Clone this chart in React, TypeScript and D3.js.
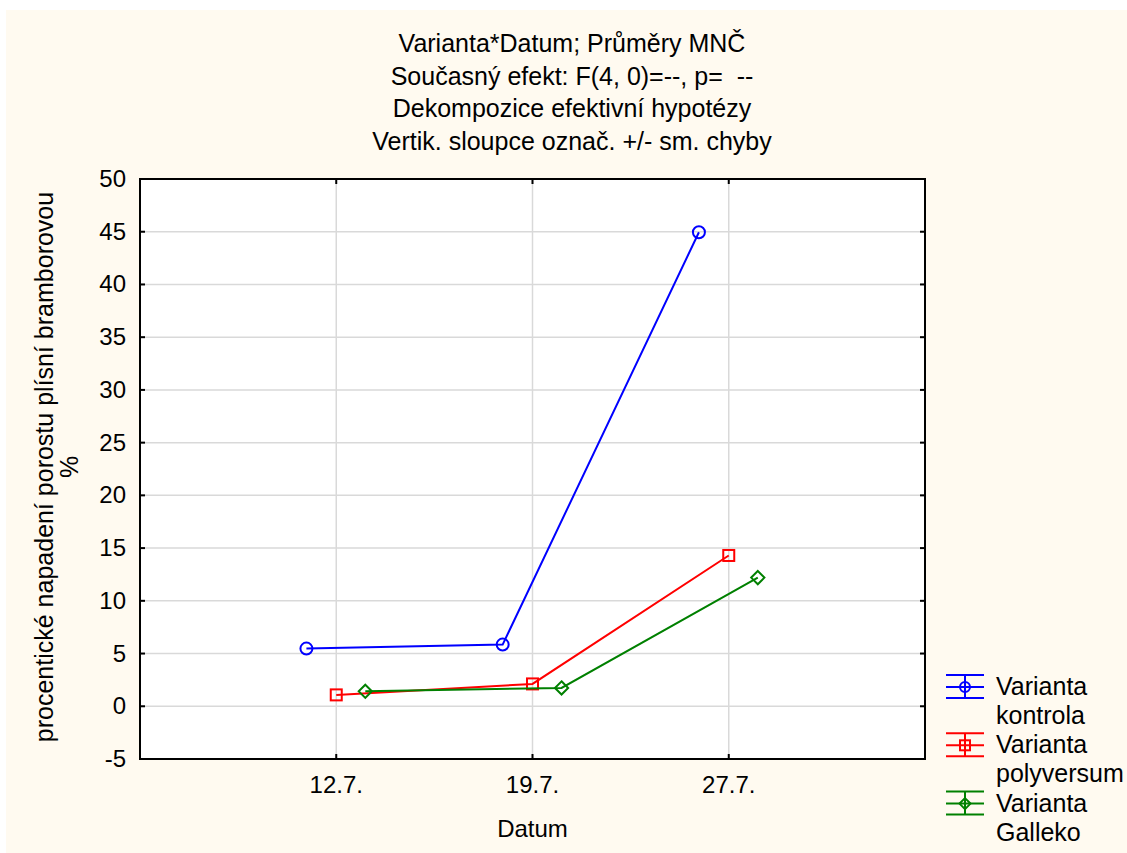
import React from "react";
import * as d3 from "d3";

const categories = ["12.7.", "19.7.", "27.7."];
const kontrola = [5.47, 5.85, 44.95];
const polyversum = [1.08, 2.12, 14.3];
const galleko = [1.42, 1.74, 12.2];
const yTicks = [-5, 0, 5, 10, 15, 20, 25, 30, 35, 40, 45, 50];
const titleLines = [
  "Varianta*Datum; Průměry MNČ",
  "Současný efekt: F(4, 0)=--, p=  --",
  "Dekompozice efektivní hypotézy",
  "Vertik. sloupce označ. +/- sm. chyby",
];
const yLabelLines = ["procentické napadení porostu plísní bramborovou", "%"];
const xLabel = "Datum";

type Series = { name: string[]; values: number[]; color: string; marker: "circle" | "square" | "diamond"; offset: number };
const series: Series[] = [
  { name: ["Varianta", "kontrola"], values: kontrola, color: "#0000ff", marker: "circle", offset: -0.152 },
  { name: ["Varianta", "polyversum"], values: polyversum, color: "#ff0000", marker: "square", offset: 0 },
  { name: ["Varianta", "Galleko"], values: galleko, color: "#008000", marker: "diamond", offset: 0.148 },
];

const W = 1127, H = 853;
const left = 140, right = 925, top = 179, bottom = 759;
const FONT = "'Liberation Sans', Arial, sans-serif";

function Marker({ type, x, y, color, s }: { type: string; x: number; y: number; color: string; s: number }) {
  if (type === "circle") return <circle cx={x} cy={y} r={s} fill="none" stroke={color} strokeWidth={2} />;
  if (type === "square") return <rect x={x - s} y={y - s} width={2 * s} height={2 * s} fill="none" stroke={color} strokeWidth={2} />;
  const d = s * 1.1;
  return <path d={`M${x},${y - d}L${x + d},${y}L${x},${y + d}L${x - d},${y}Z`} fill="none" stroke={color} strokeWidth={2} />;
}

export default function App() {
  const x = d3.scaleLinear().domain([0, 4]).range([left, right]);
  const y = d3.scaleLinear().domain([-5, 50]).range([bottom, top]);
  const line = d3.line<[number, number]>().x((d) => d[0]).y((d) => d[1]);

  return (
    <svg width={W} height={H} style={{ position: "absolute", left: 0, top: 0, fontFamily: FONT }}>
      <rect x={0} y={0} width={W} height={H} fill="#ffffff" />
      <rect x={6} y={10} width={W - 6} height={H - 10} fill="#fffaf0" />
      {titleLines.map((t, i) => (
        <text key={i} x={572} y={52 + i * 32.7} textAnchor="middle" fontSize={25} fill="#000" style={{ whiteSpace: "pre" }}>{t}</text>
      ))}
      <rect x={left} y={top} width={right - left} height={bottom - top} fill="#ffffff" />
      {yTicks.map((t) => (
        <line key={"gy" + t} x1={left} x2={right} y1={y(t)} y2={y(t)} stroke="#d9d9d9" strokeWidth={1.5} />
      ))}
      {categories.map((c, i) => (
        <line key={"gx" + c} x1={x(i + 1)} x2={x(i + 1)} y1={top} y2={bottom} stroke="#d9d9d9" strokeWidth={1.5} />
      ))}
      {series.map((s) => {
        const pts: [number, number][] = s.values.map((v, i) => [x(i + 1 + s.offset), y(v)]);
        return (
          <g key={s.color}>
            <path d={line(pts) || ""} fill="none" stroke={s.color} strokeWidth={2} />
            {pts.map((p, i) => (
              <Marker key={i} type={s.marker} x={p[0]} y={p[1]} color={s.color} s={s.marker === "square" ? 5.5 : 6} />
            ))}
          </g>
        );
      })}
      <rect x={left} y={top} width={right - left} height={bottom - top} fill="none" stroke="#000" strokeWidth={2} />
      {yTicks.map((t) => (
        <g key={"ty" + t}>
          <line x1={left} x2={left + 5} y1={y(t)} y2={y(t)} stroke="#000" strokeWidth={2} />
          <line x1={right - 5} x2={right} y1={y(t)} y2={y(t)} stroke="#000" strokeWidth={2} />
          <text x={126} y={y(t) + 8} textAnchor="end" fontSize={24} fill="#000">{t}</text>
        </g>
      ))}
      {categories.map((c, i) => (
        <g key={"tx" + c}>
          <line x1={x(i + 1)} x2={x(i + 1)} y1={bottom} y2={bottom - 5} stroke="#000" strokeWidth={2} />
          <line x1={x(i + 1)} x2={x(i + 1)} y1={top} y2={top + 5} stroke="#000" strokeWidth={2} />
          <text x={x(i + 1)} y={793} textAnchor="middle" fontSize={24} fill="#000">{c}</text>
        </g>
      ))}
      <text x={(left + right) / 2} y={837} textAnchor="middle" fontSize={24} fill="#000">{xLabel}</text>
      {yLabelLines.map((t, i) => (
        <text key={i} transform={`translate(${53 + i * 25},467) rotate(-90)`} textAnchor="middle" fontSize={25} fill="#000">{t}</text>
      ))}
      {series.map((s, k) => {
        const cy = 687 + k * 58.3;
        const cx = 965;
        return (
          <g key={"lg" + k}>
            <line x1={946} x2={984} y1={cy} y2={cy} stroke={s.color} strokeWidth={2} />
            <line x1={946} x2={984} y1={cy - 12} y2={cy - 12} stroke={s.color} strokeWidth={2} />
            <line x1={946} x2={984} y1={cy + 11} y2={cy + 11} stroke={s.color} strokeWidth={2} />
            <line x1={cx} x2={cx} y1={cy - 12} y2={cy + 11} stroke={s.color} strokeWidth={2} />
            <Marker type={s.marker} x={cx} y={cy} color={s.color} s={5} />
            <text x={996} y={cy + 8} fontSize={25} fill="#000">{s.name[0]}</text>
            <text x={996} y={cy + 37} fontSize={25} fill="#000">{s.name[1]}</text>
          </g>
        );
      })}
    </svg>
  );
}
